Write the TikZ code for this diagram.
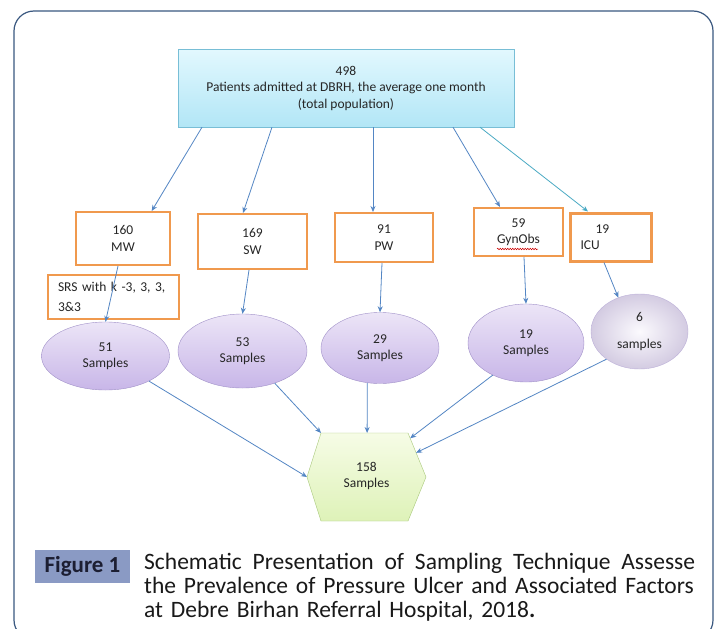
\documentclass[tikz,border=0pt]{standalone}
\usepackage{fontspec}
\setmainfont{Carlito}
\usetikzlibrary{shapes.geometric,arrows.meta,calc,decorations.pathmorphing}

\definecolor{framecol}{RGB}{58,88,128}
\definecolor{linkcol}{RGB}{84,134,196}
\definecolor{icucol}{RGB}{75,170,196}
\definecolor{wardcol}{RGB}{240,153,78}
\definecolor{toptop}{RGB}{226,248,254}
\definecolor{topbot}{RGB}{178,230,246}
\definecolor{topedge}{RGB}{120,190,214}
\definecolor{elltop}{RGB}{236,229,247}
\definecolor{ellbot}{RGB}{200,182,232}
\definecolor{elledge}{RGB}{160,144,200}
\definecolor{hextop}{RGB}{246,252,230}
\definecolor{hexbot}{RGB}{222,242,184}
\definecolor{hexedge}{RGB}{168,200,122}
\definecolor{figcol}{RGB}{138,154,196}
\definecolor{figtext}{RGB}{28,30,50}

\begin{document}
\begin{tikzpicture}[x=1pt,y=-1pt,
	txt/.style={font=\fontsize{13.5}{16.5}\selectfont,text=black!85,align=center,inner sep=0pt},
	ward/.style={txt,draw=wardcol,line width=2pt,fill=white},
	samp/.style={txt,ellipse,draw=elledge,top color=elltop,bottom color=ellbot},
	link/.style={draw=linkcol,line width=0.8pt,-{Stealth[length=6pt,width=5pt]}}]
		\useasboundingbox (0,0) rectangle (718,629);
		\fill[white] (0,0) rectangle (718,629);
		\draw[framecol,line width=1.2pt,rounded corners=20pt] (14,11) rectangle (713,640);

		\node[txt,draw=topedge,top color=toptop,bottom color=topbot,minimum width=336pt,minimum height=78pt] (top) at (346,88) {498\\Patients admitted at DBRH, the average one month\\(total population)};

		\node[ward,minimum width=94pt,minimum height=53pt] (mw) at (123,238.5) {160\\MW};
		\node[ward,minimum width=109pt,minimum height=55pt] (sw) at (252.5,241.5) {169\\SW};
		\node[ward,minimum width=98pt,minimum height=49pt] (pw) at (384,237.5) {91\\PW};
		\node[ward,minimum width=89pt,minimum height=48pt] (gyn) at (518.5,232) {59\\GynObs};
		\node[ward,line width=3pt,minimum width=81pt,minimum height=48pt,align=left,text width=60pt] (icu) at (610.5,237) {\hspace*{15pt}19\\ICU};
		\node[ward,line width=1.8pt,minimum width=131pt,minimum height=44pt,align=left,text width=111pt] (srs) at (113.5,297) {SRS with k -3, 3, 3,\\[3.5pt]3\&3};
		\draw[red!80!black,line width=0.5pt,decorate,decoration={snake,amplitude=0.8pt,segment length=2.5pt}] ([xshift=-21.5pt,yshift=-17pt]gyn.center) -- ([xshift=19.5pt,yshift=-17pt]gyn.center);

		\node[samp,minimum width=128pt,minimum height=68pt] (s51) at (105.5,356) {51\\Samples};
		\node[samp,minimum width=129pt,minimum height=74pt] (s53) at (242.5,351) {53\\Samples};
		\node[samp,minimum width=118pt,minimum height=71pt] (s29) at (380,348) {29\\Samples};
		\node[samp,minimum width=116pt,minimum height=78pt] (s19) at (526,343) {19\\Samples};
		\node[samp,draw=elledge!70,inner color=white!80!elltop,outer color=ellbot!75!gray!60,minimum width=97pt,minimum height=75pt] (s6) at (639.5,331.5) {6\\[10pt]samples};

		\path[draw=hexedge,top color=hextop,bottom color=hexbot] (321,433) coordinate (h1) -- (408,433) coordinate (h2) -- (426,477) coordinate (h3) -- (408,521) coordinate (h4) -- (321,521) coordinate (h5) -- (307,477) coordinate (h6) -- cycle;
		\node[txt] (total) at (366.5,476) {158\\Samples};

		\draw[link] ([xshift=-144pt]top.south) -- ([xshift=28.7pt]mw.north);
		\draw[link] ([xshift=-74pt]top.south) -- ([xshift=-9.5pt]sw.north);
		\draw[link] ([xshift=27pt]top.south) -- ([xshift=-11pt]pw.north);
		\draw[link] ([xshift=107pt]top.south) -- ([xshift=-18.5pt]gyn.north);
		\draw[link,draw=icucol] ([xshift=134pt]top.south) -- ([xshift=-22.5pt]icu.north);

		\draw[link] ([xshift=-5pt]mw.south) -- (s51.north);
		\draw[link] ([xshift=-3.5pt]sw.south) -- (s53.north);
		\draw[link] ([xshift=-2pt]pw.south) -- (s29.north);
		\draw[link] ([xshift=5.5pt]gyn.south) -- (s19.north);
		\draw[link] ([xshift=-6.5pt]icu.south) -- (s6.122);

		\draw[link] (s51.-30) -- (h6);
		\draw[link] (s53.-45) -- (h1);
		\draw[link] (s29.-110) -- ($(h1)!0.53!(h2)$);
		\draw[link] (s19.224) -- ($(h2)!0.12!(h3)$);
		\draw[link] (s6.220) -- ($(h2)!0.45!(h3)$);

		\node[fill=figcol,text=figtext,font=\fontsize{23}{24}\selectfont\bfseries,minimum width=95pt,minimum height=33pt,inner sep=0pt] (fig) at (82.5,566.5) {Figure 1};
		\node[anchor=north west,text width=551pt,align=left,inner sep=0pt,font=\fontsize{23.5}{24}\selectfont,text=black!90] (cap) at (144,553) {\hbox to 551pt{\spaceskip=5pt plus 1fil Schematic Presentation of Sampling Technique Assesse}\\the Prevalence of Pressure Ulcer and Associated Factors\\at Debre Birhan Referral Hospital, 2018\textbf{.}};
\end{tikzpicture}
\end{document}
